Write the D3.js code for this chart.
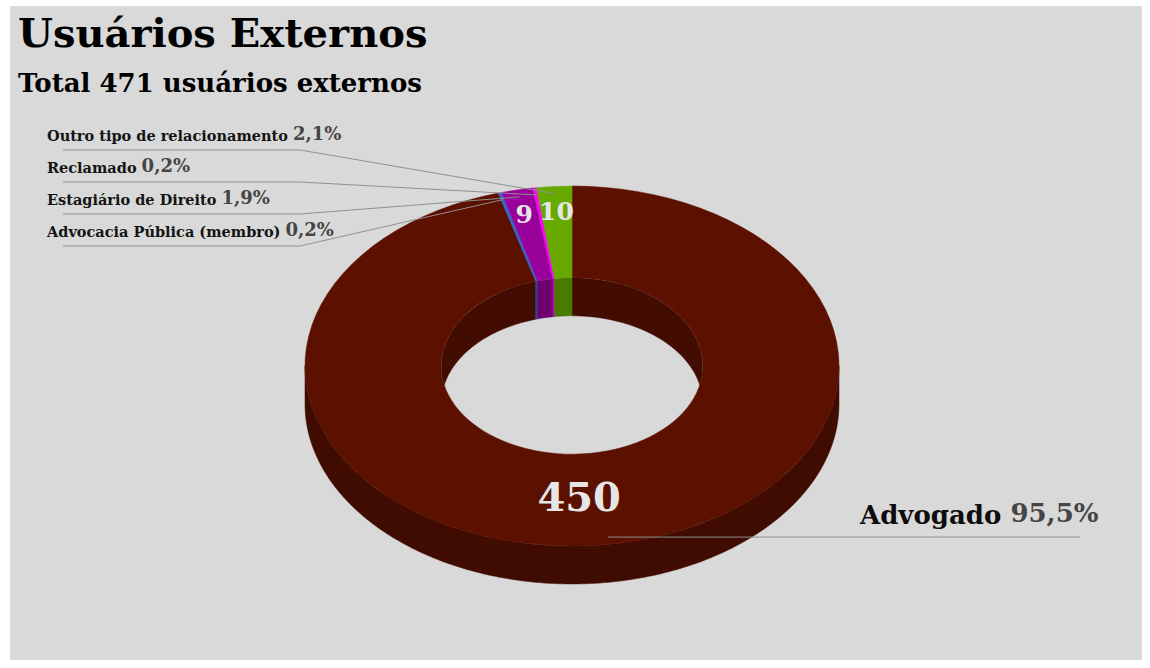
<!DOCTYPE html>
<html>
<head>
<meta charset="utf-8">
<script src="https://cdn.jsdelivr.net/npm/d3@7"></script>
<style>
  html, body { margin: 0; padding: 0; background: #ffffff; }
  svg { display: block; }
  text { font-family: "DejaVu Serif", Georgia, serif; }
</style>
</head>
<body>
<div id="chart"></div>
<script>
// data
const categories = ["Advogado", "Advocacia Pública (membro)", "Estagiário de Direito", "Reclamado", "Outro tipo de relacionamento"];
const values = [450, 1, 9, 1, 10];
const colors = ["#5c1000", "#3366cc", "#990099", "#ff00ff", "#66aa00"];
const titleText = "Usuários Externos";
const subtitleText = "Total 471 usuários externos";

function donut3d() {
  var width = 1150, height = 668;
  var cx = 572, cy = 366, R = 267, ratio = 0.674, inner = 0.49, depth = 38;
  var ri = R * inner;

  var svg = d3.select("#chart").append("svg")
    .attr("width", width)
    .attr("height", height);

  // background panel
  svg.append("rect")
    .attr("x", 10).attr("y", 6)
    .attr("width", 1132).attr("height", 654)
    .attr("fill", "#d9d9d9");

  // titles
  svg.append("text")
    .attr("x", 18).attr("y", 47)
    .attr("font-size", 40).attr("font-weight", "bold")
    .attr("fill", "#000")
    .text(titleText);
  svg.append("text")
    .attr("x", 18).attr("y", 92)
    .attr("font-size", 26).attr("font-weight", "bold")
    .attr("fill", "#000")
    .text(subtitleText);

  var total = d3.sum(values);
  var data = categories.map(function(c, i) { return {name: c, value: values[i], color: colors[i]}; });

  var pie = d3.pie()
    .sort(null)
    .value(function(d) { return d.value; })
    .startAngle(0)
    .endAngle(2 * Math.PI);
  var arcs = pie(data);

  var fmt = d3.format(".1f");
  function pct(v) { return fmt(v / total * 100).replace(".", ",") + "%"; }

  // projection of a point on the tilted disc
  function px(r, a) { return cx + r * Math.sin(a); }
  function py(r, a) { return cy - r * ratio * Math.cos(a); }

  var line = d3.line();

  function wall(r, a0, a1) {
    var n = Math.max(2, Math.ceil((a1 - a0) / (Math.PI / 360)));
    var ang = d3.range(n + 1).map(function(i) { return a0 + (a1 - a0) * i / n; });
    var top = ang.map(function(a) { return [px(r, a), py(r, a)]; });
    var bot = ang.slice().reverse().map(function(a) { return [px(r, a), py(r, a) + depth]; });
    return line(top.concat(bot)) + "Z";
  }

  function clipRange(s, e, lo, hi) {
    var a = Math.max(s, lo), b = Math.min(e, hi);
    return a < b ? [a, b] : null;
  }

  // clip for the inner hole
  svg.append("clipPath").attr("id", "hole")
    .append("ellipse")
    .attr("cx", cx).attr("cy", cy)
    .attr("rx", ri).attr("ry", ri * ratio);

  // outer walls: front half (90deg .. 270deg)
  var gOuter = svg.append("g");
  arcs.forEach(function(d) {
    var rg = clipRange(d.startAngle, d.endAngle, Math.PI / 2, 3 * Math.PI / 2);
    if (!rg) return;
    gOuter.append("path")
      .attr("d", wall(R, rg[0], rg[1]))
      .attr("fill", d3.color(d.data.color).darker(1))
      .attr("stroke", d3.color(d.data.color).darker(1))
      .attr("stroke-width", 0.5);
  });

  // top faces
  var arc = d3.arc().innerRadius(ri).outerRadius(R);
  svg.append("g")
    .attr("transform", "translate(" + cx + "," + cy + ") scale(1," + ratio + ")")
    .selectAll("path")
    .data(arcs)
    .enter()
    .append("path")
    .attr("d", arc)
    .attr("fill", function(d) { return d.data.color; })
    .attr("stroke", function(d) { return d.data.color; })
    .attr("stroke-width", 0.5)
    .attr("vector-effect", "non-scaling-stroke");

  // inner walls: back half, seen through the hole
  var gInner = svg.append("g").attr("clip-path", "url(#hole)");
  arcs.forEach(function(d) {
    [[-Math.PI / 2, Math.PI / 2], [3 * Math.PI / 2, 5 * Math.PI / 2]].forEach(function(w) {
      var rg = clipRange(d.startAngle, d.endAngle, w[0], w[1]);
      if (!rg) return;
      gInner.append("path")
        .attr("d", wall(ri, rg[0], rg[1]))
        .attr("fill", d3.color(d.data.color).darker(0.9))
        .attr("stroke", d3.color(d.data.color).darker(0.9))
        .attr("stroke-width", 0.5);
    });
  });

  // value labels inside the ring
  function big(d) { return d.value / total > 0.5; }
  svg.append("g").selectAll("text")
    .data(arcs.filter(function(d) { return d.value / total > 0.01; }))
    .enter()
    .append("text")
    .attr("x", function(d) {
      var m = (d.startAngle + d.endAngle) / 2;
      return big(d) ? px(R * 0.73, m) - 20 : px(R * 0.87, m);
    })
    .attr("y", function(d) {
      var m = (d.startAngle + d.endAngle) / 2;
      return big(d) ? py(R * 0.73, m) : py(R * 0.87, m) + 2;
    })
    .attr("text-anchor", "middle")
    .attr("dominant-baseline", "central")
    .attr("font-weight", "bold")
    .attr("font-size", function(d) { return big(d) ? 40 : 25; })
    .attr("fill", "#e6e6e6")
    .text(function(d) { return d.value; });

  // outside labels with leader lines
  var anchors = arcs.map(function(d) {
    var m = (d.startAngle + d.endAngle) / 2;
    return {d: d, x: px(R * 0.96, m), y: py(R * 0.96, m), right: Math.sin(m) > 0};
  });
  var left = anchors.filter(function(a) { return !a.right; }).sort(function(a, b) { return a.y - b.y; });
  var right = anchors.filter(function(a) { return a.right; });
  var gLab = svg.append("g");

  left.forEach(function(a, i) {
    var uy = 150 + i * 32;
    gLab.append("path")
      .attr("d", line([[a.x, a.y], [300, uy], [63, uy]]))
      .attr("fill", "none")
      .attr("stroke", "#8f8f8f")
      .attr("stroke-width", 1);
    var t = gLab.append("text")
      .attr("x", 47).attr("y", uy - 9)
      .attr("font-weight", "bold");
    t.append("tspan").attr("font-size", 14.5).attr("fill", "#141414").text(a.d.data.name + " ");
    t.append("tspan").attr("font-size", 18).attr("fill", "#454545").attr("dy", -1).text(pct(a.d.value));
  });

  right.forEach(function(a) {
    gLab.append("path")
      .attr("d", line([[a.x, a.y], [1080, a.y]]))
      .attr("fill", "none")
      .attr("stroke", "#8f8f8f")
      .attr("stroke-width", 1);
    var t = gLab.append("text")
      .attr("x", 860).attr("y", a.y - 13)
      .attr("font-weight", "bold");
    t.append("tspan").attr("font-size", 26).attr("fill", "#0d0d0d").text(a.d.data.name + "  ");
    t.append("tspan").attr("font-size", 26).attr("fill", "#454545").attr("dy", -2).text(pct(a.d.value));
  });
}
donut3d();
</script>
</body>
</html>
